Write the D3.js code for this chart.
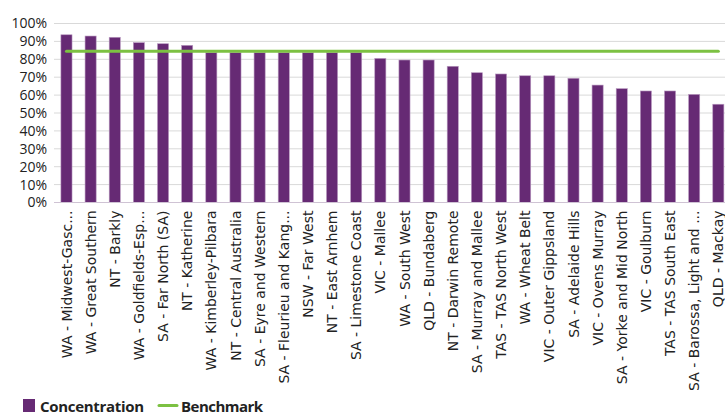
<!DOCTYPE html>
<html>
<head>
<meta charset="utf-8">
<script src="https://cdn.jsdelivr.net/npm/d3@7/dist/d3.min.js"></script>
<style>
  html, body { margin: 0; padding: 0; background: #fff; }
  svg { display: block; }
  text { font-family: "Open Sans", "DejaVu Sans", sans-serif; fill: #222; }
</style>
</head>
<body>
<svg id="chart" width="725" height="418"></svg>
<script>
const categories = [
  "WA - Midwest-Gasc...", "WA - Great Southern", "NT - Barkly", "WA - Goldfields-Esp...",
  "SA - Far North (SA)", "NT - Katherine", "WA - Kimberley-Pilbara", "NT - Central Australia",
  "SA - Eyre and Western", "SA - Fleurieu and Kang...", "NSW - Far West", "NT - East Arnhem",
  "SA - Limestone Coast", "VIC - Mallee", "WA - South West", "QLD - Bundaberg",
  "NT - Darwin Remote", "SA - Murray and Mallee", "TAS - TAS North West", "WA - Wheat Belt",
  "VIC - Outer Gippsland", "SA - Adelaide Hills", "VIC - Ovens Murray", "SA - Yorke and Mid North",
  "VIC - Goulburn", "TAS - TAS South East", "SA - Barossa, Light and ...", "QLD - Mackay"
];
const concentration = [
  0.937, 0.930, 0.923, 0.893, 0.887, 0.878, 0.837, 0.837,
  0.837, 0.837, 0.837, 0.837, 0.837, 0.805, 0.796, 0.796,
  0.761, 0.725, 0.718, 0.708, 0.708, 0.694, 0.656, 0.636,
  0.623, 0.623, 0.604, 0.549
];
const benchmark = categories.map(() => 0.845);
const yTicks = [0, 0.1, 0.2, 0.3, 0.4, 0.5, 0.6, 0.7, 0.8, 0.9, 1.0];
const seriesNames = ["Concentration", "Benchmark"];

const svg = d3.select("#chart");
const x = d3.scaleBand().domain(categories).range([54.4, 730.4]).paddingInner(0.54).paddingOuter(0.27);
const y = d3.scaleLinear().domain([0, 1]).range([202.5, 23.5]);

// gridlines
svg.append("g").selectAll("line").data(yTicks).join("line")
  .attr("x1", 54).attr("x2", 725)
  .attr("y1", d => y(d)).attr("y2", d => y(d))
  .attr("stroke", "#d9d9d9").attr("stroke-width", 1);

// y axis labels
const yAxis = d3.axisLeft(y).tickValues(yTicks).tickFormat(d3.format(".0%")).tickSize(0).tickPadding(7);
const ya = svg.append("g").attr("transform", "translate(54,0)").call(yAxis);
ya.select(".domain").remove();
ya.selectAll("text").style("font-size", "14px").style("font-family", '"Open Sans", sans-serif').attr("fill", "#222");

// bars
svg.append("g").selectAll("rect").data(categories).join("rect")
  .attr("x", d => x(d))
  .attr("width", x.bandwidth())
  .attr("y", (d, i) => y(concentration[i]))
  .attr("height", (d, i) => y(0) - y(concentration[i]))
  .attr("fill", "#662a74")
  .attr("stroke", "#b99ac0").attr("stroke-width", 0.6);

// x axis line
svg.append("line").attr("x1", 54).attr("x2", 725).attr("y1", y(0)).attr("y2", y(0))
  .attr("stroke", "#cfc3d4").attr("stroke-width", 1);

// x labels
const xAxis = d3.axisBottom(x).tickSize(0).tickPadding(0);
const xa = svg.append("g").attr("transform", `translate(0,${y(0)})`).call(xAxis);
xa.select(".domain").remove();
xa.selectAll("text")
  .style("font-size", "14px").style("font-family", '"DejaVu Sans", sans-serif').attr("fill", "#222")
  .attr("transform", "rotate(-90)")
  .attr("x", -8).attr("y", 0).attr("dy", "0.36em")
  .style("text-anchor", "end");

// benchmark line
const line = d3.line().x((d, i) => x(categories[i]) + x.bandwidth() / 2).y(d => y(d));
svg.append("path").datum(benchmark).attr("d", line)
  .attr("fill", "none").attr("stroke", "#7cc142").attr("stroke-width", 3).attr("stroke-linecap", "round");

// legend
const lg = svg.append("g");
lg.append("rect").attr("x", 23).attr("y", 399).attr("width", 12).attr("height", 13).attr("fill", "#662a74");
lg.append("text").attr("x", 40).attr("y", 411.5).text(seriesNames[0])
  .style("font-size", "15px").style("font-weight", "bold").attr("textLength", 104);
lg.append("line").attr("x1", 159).attr("x2", 177).attr("y1", 405.5).attr("y2", 405.5)
  .attr("stroke", "#7cc142").attr("stroke-width", 3).attr("stroke-linecap", "round");
lg.append("text").attr("x", 181).attr("y", 411.5).text(seriesNames[1])
  .style("font-size", "15px").style("font-weight", "bold").attr("textLength", 82);
</script>
</body>
</html>
